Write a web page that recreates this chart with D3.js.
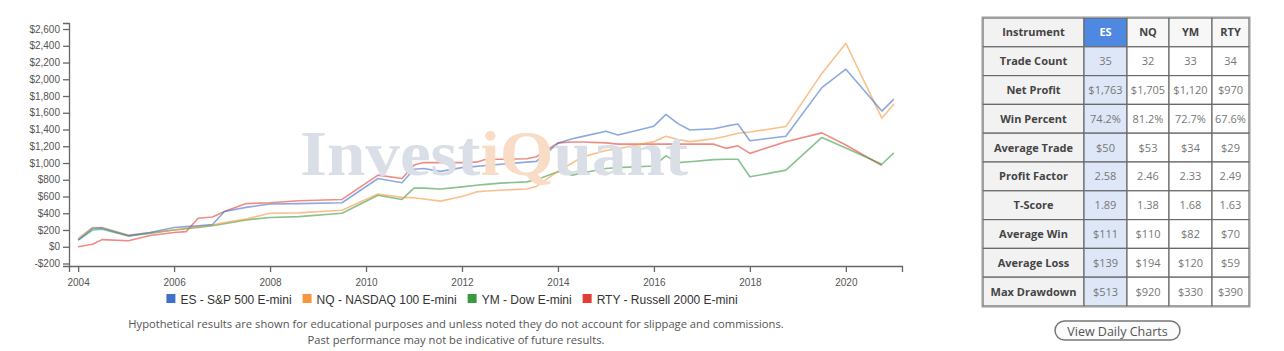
<!DOCTYPE html>
<html>
<head>
<meta charset="utf-8">
<script src="https://cdn.jsdelivr.net/npm/d3@7"></script>
<style>
  body { margin: 0; background: #fff; }
  svg { display: block; }
</style>
</head>
<body>
<div id="graph"></div>
<script>
// decimal years shared by every series
var dates = [2004.0, 2004.3, 2004.5, 2005.05, 2005.5, 2006.0, 2006.25, 2006.5, 2006.8, 2007.05,
    2007.5, 2008.0, 2008.6, 2009.5, 2010.25, 2010.75, 2011.0, 2011.2, 2011.55, 2012.0,
    2012.3, 2012.5, 2012.8, 2013.35, 2013.55, 2014.0, 2014.3, 2014.5, 2015.0, 2015.25,
    2016.0, 2016.25, 2016.5, 2016.75, 2017.25, 2017.5, 2017.75, 2018.0, 2018.75, 2019.5,
    2020.0, 2020.75, 2021.0];

var esValues = [80, 220, 225, 130, 170, 230, 240, 250, 265, 420,
    470, 510, 515, 525, 815, 765, 925, 935, 900, 945,
    960, 970, 985, 1010, 1020, 1235, 1290, 1315, 1380, 1335,
    1440, 1580, 1470, 1395, 1410, 1440, 1465, 1265, 1320, 1900,
    2120, 1620, 1763];

var nqValues = [100, 230, 230, 140, 170, 200, 220, 240, 260, 290,
    330, 400, 405, 435, 630, 590, 585, 570, 545, 600,
    655, 665, 675, 690, 720, 900, 1000, 1070, 1150, 1170,
    1255, 1320, 1280, 1255, 1290, 1320, 1355, 1370, 1435, 2070,
    2430, 1535, 1705];

var ymValues = [80, 200, 210, 130, 160, 200, 215, 230, 250, 275,
    320, 350, 360, 400, 615, 565, 700, 700, 690, 715,
    735, 745, 760, 775, 800, 895, 855, 880, 935, 945,
    965, 1085, 1005, 1015, 1040, 1045, 1045, 835, 915, 1305,
    1180, 985, 1120];

var rtyValues = [0, 30, 85, 72, 135, 170, 180, 340, 355, 420,
    515, 525, 550, 565, 855, 815, 975, 1005, 1005, 1005,
    1010, 1045, 1045, 1050, 1075, 1240, 1250, 1250, 1240, 1225,
    1225, 1225, 1225, 1225, 1225, 1175, 1205, 1115, 1255, 1360,
    1215, 970, null];

var seriesNames = ['ES - S&P 500 E-mini', 'NQ - NASDAQ 100 E-mini', 'YM - Dow E-mini', 'RTY - Russell 2000 E-mini'];
var seriesColors = ['#3f72c6', '#f7963e', '#3b9a3f', '#e23d33'];

var xTicks = [2004, 2006, 2008, 2010, 2012, 2014, 2016, 2018, 2020];
var yTicks = [-200, 0, 200, 400, 600, 800, 1000, 1200, 1400, 1600, 1800, 2000, 2200, 2400, 2600];

// stats table
var tableHeader = ['Instrument', 'ES', 'NQ', 'YM', 'RTY'];
var rowLabels = ['Trade Count', 'Net Profit', 'Win Percent', 'Average Trade', 'Profit Factor',
    'T-Score', 'Average Win', 'Average Loss', 'Max Drawdown'];
var esStats = ['35', '$1,763', '74.2%', '$50', '2.58', '1.89', '$111', '$139', '$513'];
var nqStats = ['32', '$1,705', '81.2%', '$53', '2.46', '1.38', '$110', '$194', '$920'];
var ymStats = ['33', '$1,120', '72.7%', '$34', '2.33', '1.68', '$82', '$120', '$330'];
var rtyStats = ['34', '$970', '67.6%', '$29', '2.49', '1.63', '$70', '$59', '$390'];

var footnote = ['Hypothetical results are shown for educational purposes and unless noted they do not account for slippage and commissions.',
    'Past performance may not be indicative of future results.'];

function draw() {
    var W = 1284, H = 351;
    var svg = d3.select('#graph').append('svg')
        .attr('width', W)
        .attr('height', H);
    svg.append('rect').attr('width', W).attr('height', H).attr('fill', '#fff');

    var marginLeft = 69, marginTop = 23, width = 833, height = 243;
    var chart = svg.append('g').attr('transform', 'translate(' + marginLeft + ',' + marginTop + ')');

    var x = d3.scaleLinear().domain([2003.81, 2021.17]).range([0, width]);
    var y = d3.scaleLinear().domain([-230, 2672]).range([height, 0]);

    // watermark
    var wm = svg.append('text')
        .attr('x', 300)
        .attr('y', 175)
        .attr('textLength', 388)
        .attr('lengthAdjust', 'spacingAndGlyphs')
        .style('font-family', 'Liberation Serif, serif')
        .style('font-weight', 'bold')
        .style('font-size', '64px');
    wm.append('tspan').attr('fill', '#d9dee7').text('Invest');
    wm.append('tspan').attr('fill', '#f8dcc6').text('iQ');
    wm.append('tspan').attr('fill', '#d9dee7').text('uant');

    var xAxis = chart.append('g')
        .attr('transform', 'translate(0,' + height + ')')
        .call(d3.axisBottom(x).tickValues(xTicks).tickFormat(d3.format('d')));
    var yAxis = chart.append('g')
        .call(d3.axisLeft(y).tickValues(yTicks).tickFormat(function(d) {
            return (d < 0 ? '-$' : '$') + d3.format(',')(Math.abs(d));
        }));

    [xAxis, yAxis].forEach(function(a) {
        a.selectAll('path, line').attr('stroke', '#666').attr('stroke-width', 1.3);
        a.selectAll('text')
            .attr('fill', '#555')
            .style('font-family', 'Liberation Sans, Arial, sans-serif')
            .style('font-size', '10px');
    });
    xAxis.selectAll('text').attr('dy', '1.1em');

    var allSeries = [esValues, nqValues, ymValues, rtyValues];
    var line = d3.line()
        .defined(function(d) { return d[1] != null; })
        .x(function(d) { return x(d[0]); })
        .y(function(d) { return y(d[1]); });

    // red first so blue sits on top
    [3, 2, 1, 0].forEach(function(i) {
        chart.append('path')
            .datum(dates.map(function(t, j) { return [t, allSeries[i][j]]; }))
            .attr('fill', 'none')
            .attr('stroke', seriesColors[i])
            .attr('stroke-opacity', 0.6)
            .attr('stroke-width', 1.6)
            .attr('stroke-linejoin', 'round')
            .attr('d', line);
    });

    // legend
    var legend = svg.append('g').attr('transform', 'translate(0,299)');
    var items = [];
    seriesNames.forEach(function(name, i) {
        var g = legend.append('g');
        g.append('rect')
            .attr('x', 0).attr('y', -5)
            .attr('width', 9).attr('height', 9)
            .attr('fill', seriesColors[i]);
        var t = g.append('text')
            .attr('x', 14).attr('y', 4.5)
            .attr('fill', '#333')
            .style('font-family', 'Liberation Sans, Arial, sans-serif')
            .style('font-size', '12px')
            .text(name);
        items.push({ g: g, w: 14 + t.node().getComputedTextLength() });
    });
    var total = d3.sum(items, function(d) { return d.w; }) + 11 * (items.length - 1);
    var lx = 452 - total / 2;
    items.forEach(function(d) {
        d.g.attr('transform', 'translate(' + lx + ',0)');
        lx += d.w + 11;
    });

    // footnote
    svg.selectAll('.foot')
        .data(footnote)
        .enter().append('text')
        .attr('x', 456)
        .attr('y', function(d, i) { return 328 + i * 16; })
        .attr('text-anchor', 'middle')
        .attr('fill', '#555')
        .style('font-family', 'Open Sans, sans-serif')
        .style('font-size', '11.2px')
        .text(function(d) { return d; });

    // table
    var colX = [983, 1084, 1127, 1169, 1212, 1249];
    var rowTop = 18, rowH = 28.8;
    var table = svg.append('g');
    var columns = [rowLabels, esStats, nqStats, ymStats, rtyStats];

    for (var r = 0; r <= rowLabels.length; r++) {
        for (var c = 0; c < 5; c++) {
            var cx0 = colX[c], cw = colX[c + 1] - colX[c];
            var cy0 = rowTop + r * rowH;
            var fill = '#fff';
            if (c == 0) fill = '#f2f2f2';
            if (c == 1) fill = r == 0 ? '#4f88e0' : '#dde7f7';
            if (r == 0 && c > 1) fill = '#f7f7f7';
            table.append('rect')
                .attr('x', cx0).attr('y', cy0)
                .attr('width', cw).attr('height', rowH)
                .attr('fill', fill)
                .attr('stroke', '#6a6a6a')
                .attr('stroke-width', 1.2);
            var label = r == 0 ? tableHeader[c] : columns[c][r - 1];
            var bold = r == 0 || c == 0;
            table.append('text')
                .attr('x', cx0 + cw / 2)
                .attr('y', cy0 + rowH / 2 + 4)
                .attr('text-anchor', 'middle')
                .attr('fill', r == 0 && c == 1 ? '#fff' : (bold ? '#444' : '#777'))
                .style('font-family', 'Open Sans, sans-serif')
                .style('font-weight', bold ? 'bold' : 'normal')
                .style('font-size', '11px')
                .text(label);
        }
    }
    table.append('rect')
        .attr('x', colX[0] - 1).attr('y', rowTop - 1)
        .attr('width', colX[5] - colX[0] + 2).attr('height', rowH * 10 + 2)
        .attr('fill', 'none')
        .attr('stroke', '#999')
        .attr('stroke-width', 1);

    // button
    var btn = svg.append('g');
    btn.append('rect')
        .attr('x', 1055).attr('y', 321)
        .attr('width', 125).attr('height', 19)
        .attr('rx', 9.5)
        .attr('fill', '#fbfbfb')
        .attr('stroke', '#777')
        .attr('stroke-width', 1.5);
    btn.append('text')
        .attr('x', 1117.5).attr('y', 335.5)
        .attr('text-anchor', 'middle')
        .attr('fill', '#555')
        .style('font-family', 'Open Sans, sans-serif')
        .style('font-size', '12.5px')
        .text('View Daily Charts');
}

draw();
</script>
</body>
</html>
